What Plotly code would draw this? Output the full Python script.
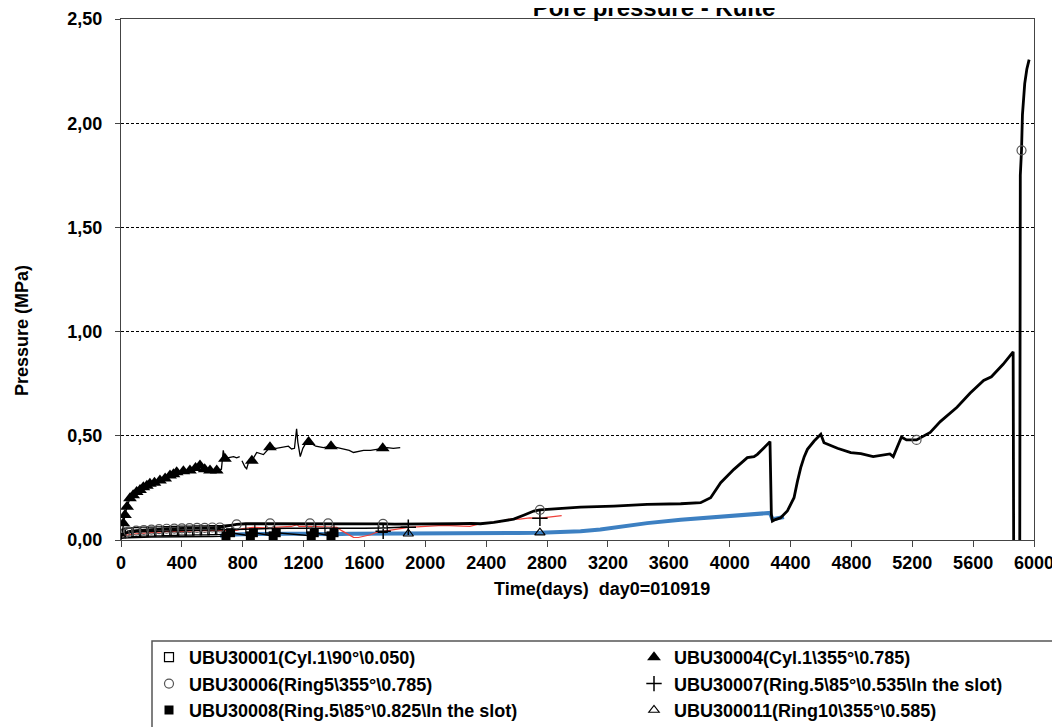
import plotly.graph_objects as go

FONT = "Liberation Sans, Arial, sans-serif"

# ---------------- data (days, pressure MPa) ----------------
# UBU30001 (open square)
d1 = [0, 50, 100, 150, 200, 250, 300, 350, 400, 450,
      500, 550, 600, 650, 700, 760, 850, 980, 1100, 1250,
      1370, 1500, 1600, 1720, 1800, 1880]
p1 = [0.03, 0.035, 0.038, 0.04, 0.04, 0.042, 0.043, 0.044, 0.045, 0.045,
      0.046, 0.046, 0.047, 0.048, 0.05, 0.052, 0.055, 0.055, 0.056, 0.055,
      0.055, 0.055, 0.056, 0.058, 0.06, 0.062]
m1 = [0, 1, 2, 3, 4, 5, 6, 7, 8, 9, 10, 11, 12, 13, 14, 16, 17, 19, 20, 23]

# UBU30004 (filled triangle)
d4 = [0, 8, 15, 26, 40, 59, 80, 103, 125, 147,
      170, 190, 220, 256, 290, 322, 345, 366, 410, 453,
      490, 519, 550, 585, 629, 660, 672, 683, 716, 740,
      760, 780, 788, 795, 804, 815, 826, 837, 860, 892,
      936, 979, 1020, 1066, 1100, 1121, 1140, 1154, 1162, 1178,
      1195, 1211, 1233, 1280, 1330, 1380, 1419, 1462, 1500, 1528,
      1560, 1594, 1640, 1682, 1720, 1748, 1790, 1835]
p4 = [0.0, 0.04, 0.08, 0.12, 0.16, 0.20, 0.215, 0.23, 0.24, 0.253,
      0.26, 0.27, 0.275, 0.285, 0.295, 0.31, 0.315, 0.325, 0.33, 0.333,
      0.345, 0.357, 0.34, 0.333, 0.333, 0.34, 0.43, 0.39, 0.397, 0.40,
      0.394, 0.40, None, 0.38, 0.366, 0.35, 0.342, 0.37, 0.38, 0.42,
      0.41, 0.445, 0.44, 0.445, 0.45, 0.437, 0.44, 0.534, 0.47, 0.40,
      0.44, 0.46, 0.47, 0.45, 0.443, 0.45, 0.443, 0.437, 0.43, 0.42,
      0.425, 0.43, 0.43, 0.437, 0.44, 0.443, 0.44, 0.443]
m4 = [2, 3, 4, 5, 6, 7, 8, 9, 10, 11, 12, 13, 14, 15, 16, 17, 18, 19, 20,
      21, 22, 23, 24, 27, 38, 41, 52, 55, 64]

# UBU30006 (open circle)
d6 = [0, 25, 50, 100, 150, 200, 250, 300, 350, 400,
      450, 500, 550, 600, 650, 700, 760, 820, 900, 980,
      1100, 1242, 1361, 1500, 1600, 1722, 1800, 1900, 2000, 2100,
      2200, 2300, 2362, 2450, 2581, 2650, 2713, 2753, 2800, 2900,
      3020, 3239, 3458, 3678, 3809, 3875, 3941, 4028, 4080, 4116,
      4160, 4182, 4226, 4265, 4274, 4281, 4300, 4335, 4379, 4400,
      4423, 4445, 4467, 4490, 4511, 4555, 4599, 4620, 4708, 4796,
      4862, 4943, 5000, 5053, 5075, 5129, 5162, 5228, 5318, 5384,
      5494, 5581, 5669, 5720, 5797, 5863, 5867, 5906, 5910, 5918,
      5924, 5931, 5939, 5953, 5968]
p6 = [0.02, 0.03, 0.04, 0.045, 0.048, 0.05, 0.052, 0.054, 0.055, 0.056,
      0.057, 0.058, 0.058, 0.06, 0.06, 0.068, 0.075, 0.078, 0.078, 0.08,
      0.08, 0.08, 0.08, 0.078, 0.077, 0.077, 0.076, 0.076, 0.076, 0.077,
      0.078, 0.08, 0.078, 0.085, 0.10, 0.12, 0.139, 0.145, 0.147, 0.152,
      0.158, 0.163, 0.171, 0.174, 0.179, 0.203, 0.275, 0.339, 0.37, 0.395,
      0.40, 0.411, 0.443, 0.472, 0.123, 0.091, 0.098, 0.107, 0.139, 0.17,
      0.203, 0.28, 0.347, 0.40, 0.435, 0.475, 0.507, 0.467, 0.44, 0.419,
      0.414, 0.40, 0.405, 0.413, 0.40, 0.494, 0.48, 0.48, 0.516, 0.568,
      0.637, 0.705, 0.766, 0.783, 0.843, 0.903, -0.2, -0.2, 1.75, 1.87,
      2.04, 2.13, 2.19, 2.26, 2.305]
m6 = [1, 2, 3, 4, 5, 6, 7, 8, 9, 10, 11, 12, 13, 14, 16, 19, 21, 22, 25, 37, 77, 89]

# UBU30007 (plus)
d7 = [0, 100, 200, 300, 400, 500, 600, 700, 760, 800,
      868, 950, 1020, 1068, 1120, 1156, 1170, 1242, 1300, 1380,
      1419, 1450, 1485, 1528, 1560, 1594, 1640, 1680, 1723, 1811,
      1888, 2000, 2118, 2200, 2293, 2362, 2446, 2490, 2556, 2620,
      2687, 2753, 2797, 2850, 2896]
p7 = [0.02, 0.03, 0.035, 0.04, 0.04, 0.045, 0.045, 0.046, 0.046, 0.055,
      0.061, 0.058, 0.06, 0.061, 0.065, 0.074, 0.065, 0.065, 0.063, 0.062,
      0.061, 0.045, 0.03, 0.013, 0.012, 0.016, 0.025, 0.037, 0.042, 0.049,
      0.061, 0.065, 0.07, 0.068, 0.065, 0.078, 0.085, 0.088, 0.10, 0.10,
      0.106, 0.104, 0.109, 0.112, 0.117]
m7 = [28, 30, 41]

# UBU30008 (filled square)
d8 = [0, 50, 100, 150, 200, 250, 300, 350, 400, 450,
      500, 550, 600, 650, 690, 720, 850, 870, 1000, 1020,
      1250, 1270, 1380, 1400]
p8 = [0.01, 0.012, 0.013, 0.013, 0.014, 0.014, 0.015, 0.015, 0.015, 0.016,
      0.016, 0.016, 0.017, 0.018, 0.02, 0.035, 0.02, 0.035, 0.02, 0.035,
      0.02, 0.035, 0.02, 0.035]
m8 = [14, 15, 16, 17, 18, 19, 20, 21, 22, 23]

# UBU300011 (open triangle)
d11 = [650, 700, 800, 900, 1000, 1100, 1200, 1300, 1400, 1500,
       1600, 1700, 1800, 1888, 2000, 2200, 2362, 2600, 2753, 2900,
       3020, 3150, 3349, 3458, 3678, 3897, 4116, 4248, 4265, 4281,
       4320, 4357]
p11 = [0.02, 0.025, 0.028, 0.03, 0.03, 0.03, 0.03, 0.028, 0.028, 0.03,
       0.03, 0.03, 0.03, 0.03, 0.032, 0.033, 0.033, 0.034, 0.035, 0.038,
       0.042, 0.05, 0.07, 0.081, 0.097, 0.11, 0.122, 0.129, 0.13, 0.10,
       0.105, 0.11]
m11 = [13, 18]

names = {
    "1": "UBU30001(Cyl.1\\90°\\0.050)",
    "4": "UBU30004(Cyl.1\\355°\\0.785)",
    "6": "UBU30006(Ring5\\355°\\0.785)",
    "7": "UBU30007(Ring.5\\85°\\0.535\\In the slot)",
    "8": "UBU30008(Ring.5\\85°\\0.825\\In the slot)",
    "11": "UBU300011(Ring10\\355°\\0.585)",
}
TITLE = "Pore pressure - Kuite"

# ---------------- layout geometry ----------------
# the page body has an 8px margin, so the figure starts 8px in from the
# top-left corner of the window; positions below are window pixels.
OFF = 8
W, H = 1052, 719
L, R, T, B = 113, 26, 11, 187
PW, PH = W - L - R, H - T - B


def px_x(px):
    return (px - OFF - L) / PW


def px_y(py):
    return (H - B - (py - OFF)) / PH


fig = go.Figure()


def add_series(days, vals, marks, name, legend, line, marker):
    fig.add_trace(go.Scatter(x=days, y=vals, mode="lines", line=line,
                             showlegend=False, hoverinfo="skip",
                             connectgaps=False))
    fig.add_trace(go.Scatter(x=[days[i] for i in marks],
                             y=[vals[i] for i in marks],
                             mode="markers", marker=marker, name=name,
                             legend=legend, legendgroup=name,
                             hoverinfo="skip"))


BLUE = "#3D80C2"
RED = "#F0403A"

add_series(d11, p11, m11, names["11"], "legend2",
           dict(color=BLUE, width=4),
           dict(symbol="triangle-up-open", size=9, color="black",
                line=dict(width=1.2, color="black")))
add_series(d7, p7, m7, names["7"], "legend2",
           dict(color=RED, width=1.2),
           dict(symbol="cross-thin-open", size=11, color="black",
                line=dict(width=1.5, color="black")))
add_series(d8, p8, m8, names["8"], "legend",
           dict(color="black", width=1.5),
           dict(symbol="square", size=9, color="black"))
add_series(d1, p1, m1, names["1"], "legend",
           dict(color="black", width=1.5),
           dict(symbol="square-open", size=9, color="black",
                line=dict(width=1.2, color="black")))
add_series(d6, p6, m6, names["6"], "legend",
           dict(color="black", width=2.8),
           dict(symbol="circle-open", size=9, color="#555555",
                line=dict(width=1.2, color="#555555")))
add_series(d4, p4, m4, names["4"], "legend2",
           dict(color="black", width=1.3),
           dict(symbol="triangle-up", size=12, color="black"))

# legend order: column 1 / column 2
order1 = [names["1"], names["6"], names["8"]]
order2 = [names["4"], names["7"], names["11"]]
for tr in fig.data:
    if tr.name in order1:
        tr.legendrank = order1.index(tr.name) + 1
    elif tr.name in order2:
        tr.legendrank = order2.index(tr.name) + 1

legend_font = dict(family=FONT, size=18, color="black", weight="bold")
tick_font = dict(family=FONT, size=18, color="black", weight="bold")

fig.update_layout(
    width=W, height=H,
    margin=dict(l=L, r=R, t=T, b=B, autoexpand=False),
    paper_bgcolor="white", plot_bgcolor="white",
    separators=",.",
    font=dict(family=FONT, size=18, color="black", weight="bold"),
    title=dict(text=TITLE, xref="container",
               x=(654 - OFF) / W, xanchor="center", yref="container",
               y=1.0, yanchor="middle",
               font=dict(family=FONT, size=24, color="black", weight="bold")),
    legend=dict(x=px_x(149), y=px_y(639), xanchor="left", yanchor="top",
                orientation="v", bgcolor="rgba(0,0,0,0)", borderwidth=0,
                font=legend_font, tracegroupgap=0, itemclick=False),
    legend2=dict(x=px_x(634), y=px_y(639), xanchor="left", yanchor="top",
                 orientation="v", bgcolor="rgba(0,0,0,0)", borderwidth=0,
                 font=legend_font, tracegroupgap=0, itemclick=False),
    xaxis=dict(range=[0, 6000], dtick=400, tick0=0, tickformat="d",
               showgrid=False, zeroline=False,
               ticks="outside", ticklen=6, tickcolor="#444",
               showline=True, linecolor="#444", linewidth=1, mirror=True,
               tickfont=tick_font),
    yaxis=dict(range=[0, 2.5], dtick=0.5, tick0=0, tickformat=".2f",
               showgrid=True, gridcolor="black", gridwidth=1,
               griddash="3px,2px", zeroline=False,
               ticks="outside", ticklen=5, tickcolor="#444",
               ticklabelstandoff=9,
               showline=True, linecolor="#444", linewidth=1, mirror=True,
               tickfont=tick_font),
    shapes=[dict(type="rect", xref="paper", yref="paper",
                 x0=px_x(152), x1=px_x(1075), y0=px_y(641), y1=px_y(745),
                 line=dict(color="#555555", width=1.5), fillcolor="rgba(0,0,0,0)",
                 layer="above")],
    annotations=[
        dict(text="Time(days)\u00a0 day0=010919", xref="paper", yref="paper",
             x=px_x(602), y=px_y(589), xanchor="center", yanchor="middle",
             showarrow=False,
             font=dict(family=FONT, size=18, color="black", weight="bold")),
        dict(text="Pressure (MPa)", xref="paper", yref="paper",
             x=px_x(22), y=px_y(331), xanchor="center", yanchor="middle",
             textangle=-90, showarrow=False,
             font=dict(family=FONT, size=18, color="black", weight="bold")),
    ],
)

fig.write_html("out.html")
